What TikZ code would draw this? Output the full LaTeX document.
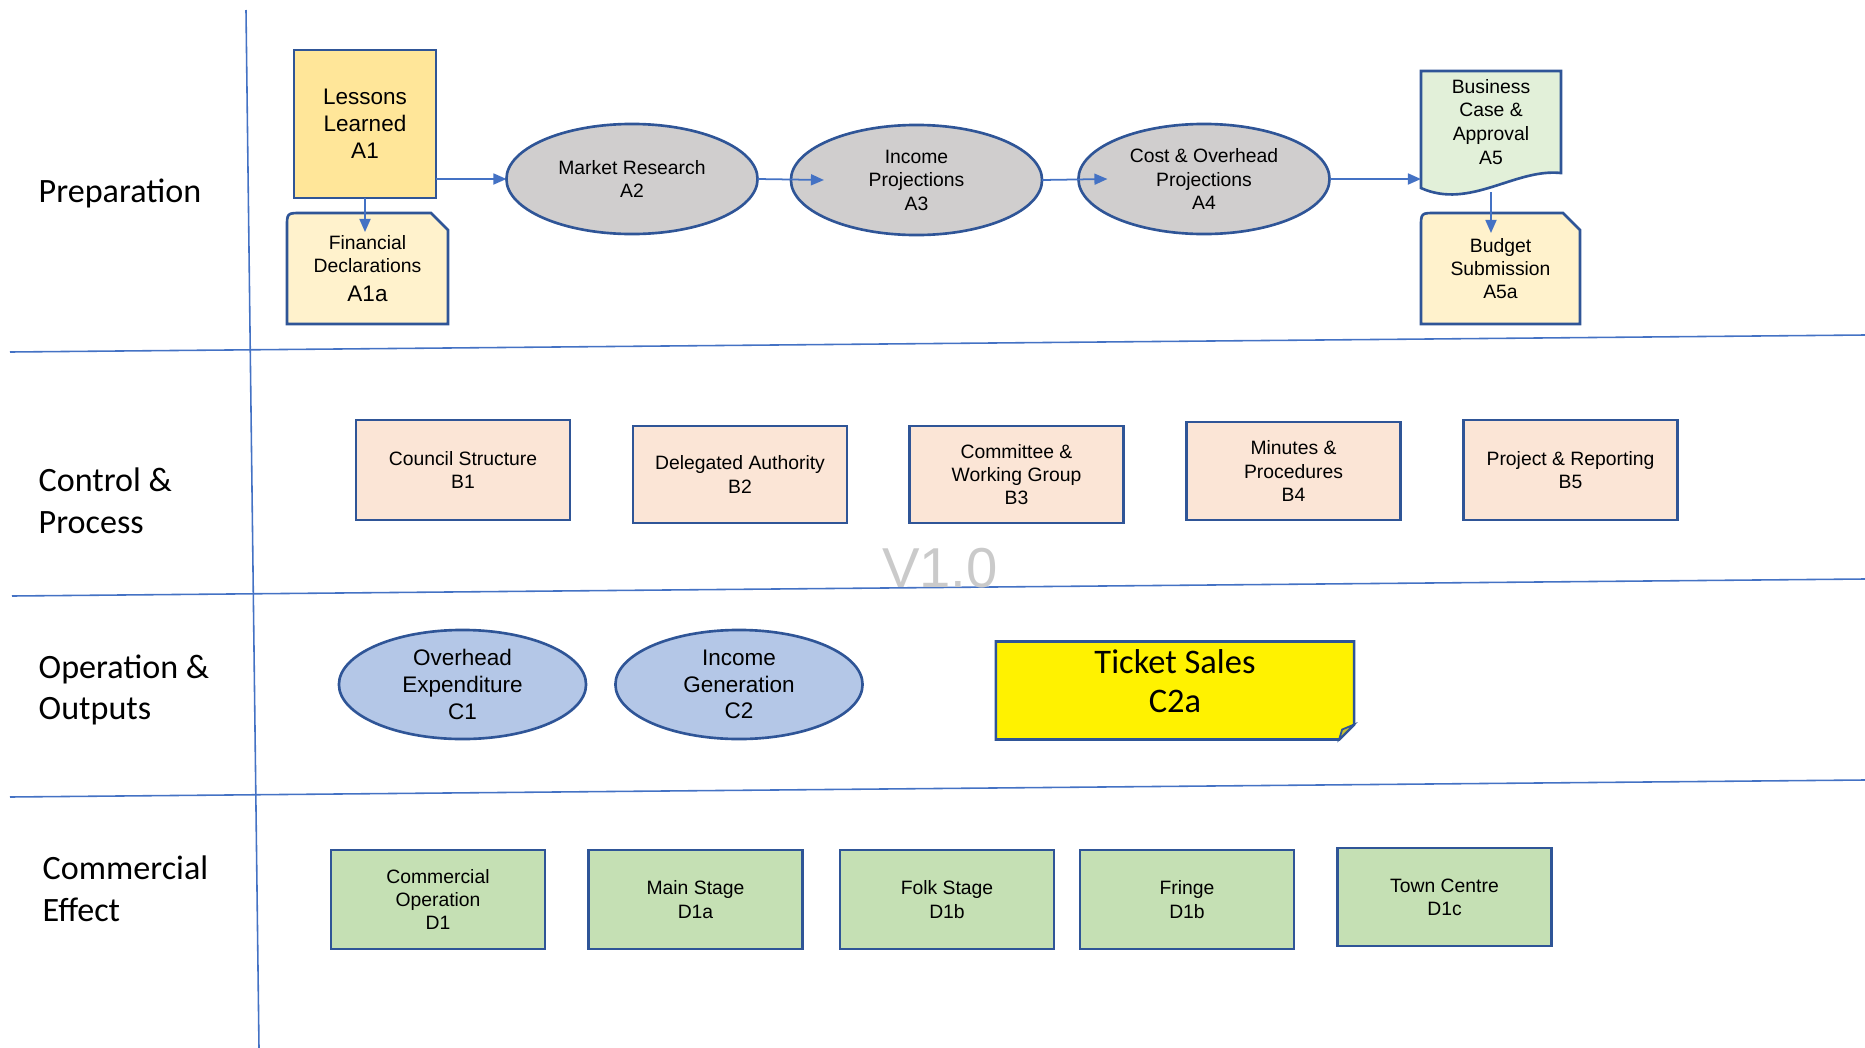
\documentclass[tikz,border=0pt]{standalone}
\usepackage{fontspec}
\setmainfont{Liberation Sans}
\newfontfamily\lanefont{Carlito}
\usetikzlibrary{arrows.meta,positioning,calc,shapes.geometric,backgrounds}
\definecolor{laneblue}{HTML}{4472C4}
\definecolor{edgeblue}{HTML}{2F5597}
\definecolor{goldfill}{HTML}{FFE699}
\definecolor{creamfill}{HTML}{FFF2CC}
\definecolor{greyfill}{HTML}{D0CECE}
\definecolor{mintfill}{HTML}{E2F0D9}
\definecolor{peachfill}{HTML}{FBE5D6}
\definecolor{skyfill}{HTML}{B4C7E7}
\definecolor{leaffill}{HTML}{C5E0B4}
\definecolor{vergrey}{HTML}{CACACA}
\newcommand{\Snipcard}[1]{%
  \path[blueline, fill=creamfill] (#1.south west) -- ($(#1.north west)+(0,15)$)
    .. controls (#1.north west) .. ($(#1.north west)+(15,0)$)
    -- ($(#1.north east)+(-17,0)$) -- ($(#1.north east)+(0,17)$)
    -- (#1.south east) -- cycle;}

\begin{document}
\begin{tikzpicture}[x=0.01cm, y=-0.01cm,
    lane/.style={draw=laneblue, line width=0.45pt},
    lanelabel/.style={anchor=west, align=left, inner sep=0pt, font=\lanefont\fontsize{9.7}{11.9}\selectfont},
    blueline/.style={draw=edgeblue, line width=0.75pt},
    card/.style={rectangle, inner sep=0pt, outer sep=0pt, align=center, font=\fontsize{5.5}{6.6}\selectfont},
    box/.style={card, blueline, minimum width=2.14cm, minimum height=0.99cm},
    oval/.style={ellipse, blueline, fill=greyfill, minimum width=2.51cm, minimum height=1.1cm, inner sep=0pt, outer sep=0pt, align=center, font=\fontsize{5.5}{6.7}\selectfont},
    flow/.style={draw=laneblue, line width=0.5pt, -{Triangle[length=0.13cm, width=0.11cm]}}
]
\useasboundingbox (0,0) rectangle (1865,1048);

% swim lanes
\draw[lane] (246,10) -- (259,1048);
\draw[lane] (10,352) -- (1865,335);
\draw[lane] (12,596) -- (1865,579);
\draw[lane] (10,797) -- (1865,780);

\node[lanelabel] (prep) at (38,193) {Preparation};
\node[lanelabel] (ctrl) at (38,501) {Control \&\\Process};
\node[lanelabel] (oper) at (38,690) {Operation \&\\Outputs};
\node[lanelabel] (comm) at (42,889) {Commercial\\Effect};

% preparation
\node[card, blueline, fill=goldfill, minimum width=1.42cm, minimum height=1.48cm, font=\fontsize{6.4}{7.7}\selectfont] (a1) at (365,124) {Lessons\\Learned\\A1};
\node[card, minimum width=1.61cm, minimum height=1.11cm] (a1a) at (367.5,268.5) {Financial\\Declarations\\[1.7pt]{\fontsize{6.4}{7.7}\selectfont A1a}};
\node[oval] (a2) at (632,179) {Market Research\\A2};
\node[oval] (a3) at (916.5,180) {Income\\Projections\\A3};
\node[oval] (a4) at (1204,179) {Cost \& Overhead\\Projections\\A4};
\node[card, minimum width=1.40cm, minimum height=1.02cm, font=\fontsize{5.5}{6.8}\selectfont] (a5) at (1491,122) {Business\\Case \&\\Approval\\A5};
\node[card, minimum width=1.59cm, minimum height=1.11cm] (a5a) at (1500.5,268.5) {Budget\\Submission\\A5a};

% control and process
\node[box, fill=peachfill, minimum height=1.0cm] (b1) at (463,470) {Council Structure\\B1};
\node[box, fill=peachfill, minimum height=0.97cm] (b2) at (740,474.5) {Delegated Authority\\B2};
\node[box, fill=peachfill, minimum height=0.97cm] (b3) at (1016.5,474.5) {Committee \&\\Working Group\\B3};
\node[box, fill=peachfill, minimum height=0.98cm] (b4) at (1293.5,471) {Minutes \&\\Procedures\\B4};
\node[box, fill=peachfill, minimum height=1.0cm] (b5) at (1570.5,470) {Project \& Reporting\\B5};

\node[text=vergrey, font=\fontsize{16}{19}\selectfont, inner sep=0pt] (ver) at (940,568) {V1.0};

% operation and outputs
\node[oval, fill=skyfill, minimum width=2.47cm, minimum height=1.09cm, font=\fontsize{6.4}{7.6}\selectfont] (c1) at (462.5,684.5) {Overhead\\Expenditure\\C1};
\node[oval, fill=skyfill, minimum width=2.47cm, minimum height=1.09cm, font=\fontsize{6.4}{7.6}\selectfont] (c2) at (739,684.5) {Income\\Generation\\C2};
% note box: text sits above the middle of the sheet
\node[card, minimum width=3.58cm, minimum height=0.79cm, font=\lanefont\fontsize{9.8}{11.2}\selectfont] (c2a) at (1175,681) {Ticket Sales\\C2a};

% commercial effect
\node[box, fill=leaffill] (d1) at (438,899.5) {Commercial\\Operation\\D1};
\node[box, fill=leaffill] (d1a) at (695.5,899.5) {Main Stage\\D1a};
\node[box, fill=leaffill] (d1b) at (947,899.5) {Folk Stage\\D1b};
\node[box, fill=leaffill] (d1f) at (1187,899.5) {Fringe\\D1b};
\node[box, fill=leaffill, minimum height=0.98cm] (d1c) at (1444.5,897) {Town Centre\\D1c};

\begin{scope}[on background layer]
  \Snipcard{a1a}
  \Snipcard{a5a}
  \path[blueline, fill=mintfill] (a5.north west) -- (a5.north east) -- (a5.south east)
    .. controls ($(a5.south east)+(-46,-5)$) and ($(a5.south west)+(49,37)$) .. ($(a5.south west)+(0,15)$) -- cycle;
  \path[blueline, fill=yellow] (c2a.north west) -- (c2a.north east) -- ($(c2a.south east)+(0,4)$)
    -- ($(c2a.south east)+(-15,19)$) -- ($(c2a.south west)+(0,19)$) -- cycle;
  \path[blueline, fill=yellow!75!black, line width=0.5pt] ($(c2a.south east)+(0,4)$)
    -- ($(c2a.south east)+(-15,19)$) -- ($(c2a.south east)+(-12,9)$) -- cycle;
\end{scope}

% flow arrows
\coordinate (a5b) at ($(a5.south)+(0,19)$);
\draw[flow] (a1.east |- a2.west) -- (a2.west);
\draw[flow] (a2.east) -- ([xshift=0.33cm]a3.west);
\draw[flow] (a3.east) -- ([xshift=0.29cm]a4.west);
\draw[flow] (a4.east) -- (a4.east -| a5.west);
\draw[flow] (a1.south) -- ([yshift=-0.19cm]a1.south |- a1a.north);
\draw[flow] (a5b) -- ([yshift=-0.2cm]a5b |- a5a.north);
\end{tikzpicture}
\end{document}
